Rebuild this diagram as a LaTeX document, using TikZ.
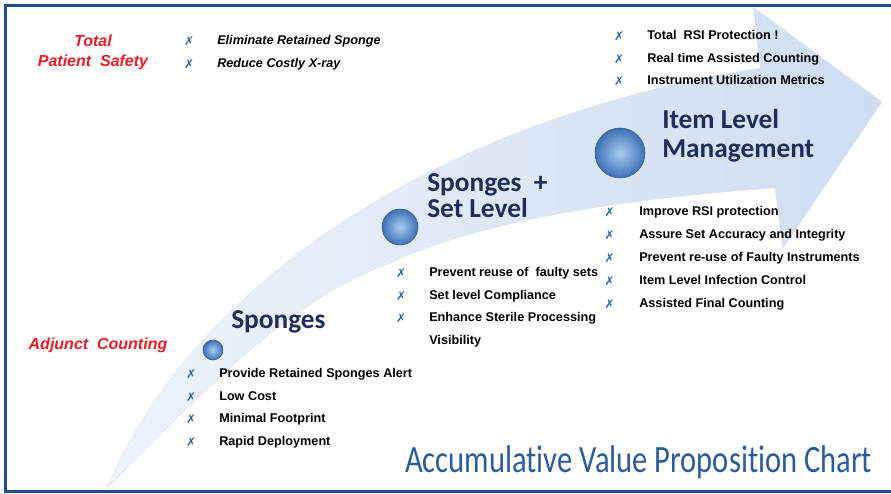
\documentclass[tikz,border=0pt]{standalone}
\usepackage{fontspec}
\setmainfont{Liberation Sans}
\newfontfamily\headfont{Carlito}
\newfontfamily\titlefont[FakeStretch=0.79, Ligatures=NoCommon]{Carlito}
\newfontfamily\markfont{DejaVu Sans}
\usepackage{tikz}
\usetikzlibrary{positioning}

\definecolor{FrameBlue}{RGB}{31,78,140}
\definecolor{HeadNavy}{RGB}{30,44,94}
\definecolor{SafetyRed}{RGB}{237,28,36}
\definecolor{MarkBlue}{RGB}{45,100,170}
\definecolor{ArrowLight}{RGB}{238,243,250}
\definecolor{ArrowBlue}{RGB}{206,221,241}
\definecolor{BubbleBlue}{RGB}{62,112,182}
\definecolor{BubbleLight}{RGB}{170,205,240}
\definecolor{TitleBlue}{RGB}{44,92,158}

\begin{document}
\begin{tikzpicture}[
	x=0.75pt, y=-0.75pt,
	node distance=7.7pt]

\tikzstyle{heading}=[anchor=base west, inner sep=0pt, text=HeadNavy,
	font=\headfont\bfseries\fontsize{20.5}{24}\selectfont]
\tikzstyle{item}=[anchor=west, inner sep=0pt, text height=7pt, text depth=2pt,
	font=\bfseries\fontsize{9.5}{11}\selectfont]
\tikzstyle{next item}=[item, anchor=north west]
\tikzstyle{slanted item}=[item, font=\bfseries\itshape\fontsize{9.5}{11}\selectfont]
\tikzstyle{next slanted item}=[slanted item, anchor=north west]
\tikzstyle{tickmark}=[inner sep=0pt, text=MarkBlue, font=\markfont\fontsize{9}{9}\selectfont]
\tikzstyle{goal}=[inner sep=0pt, align=center, text=SafetyRed,
	font=\bfseries\itshape\fontsize{12}{15}\selectfont]
\tikzstyle{bubble}=[circle, inner sep=0pt, inner color=BubbleLight, outer color=BubbleBlue,
	draw=BubbleBlue!80!black, line width=0.4pt]

\useasboundingbox (0,0) rectangle (891,493);

% Frame
\draw[FrameBlue, line width=2.25pt] (895,5) -- (5,5) -- (5,491.5) -- (895,491.5);

% Curved arrow
\path[left color=ArrowLight, right color=ArrowBlue, draw=ArrowBlue!80!gray!60, line width=0.3pt]
	(107,488)
	.. controls (190,290) and (430,120) .. (760,68)
	-- (753,7) -- (882,102) -- (783,248) -- (775,188)
	.. controls (655,196) and (490,216) .. (390,263)
	.. controls (290,300) and (210,385) .. (107,488)
	-- cycle;

% Stage bubbles
\node (bubSp) at (213,350) [bubble, minimum size=15pt] {};
\node (bubSet) at (400,227) [bubble, minimum size=27pt] {};
\node (bubItem) at (620,153) [bubble, minimum size=37.5pt] {};

% Stage headings
\node (spHead) at (231,328) [heading] {Sponges};
\node (setHeadA) at (427,191) [heading] {Sponges\ \ +};
\node (setHeadB) at (427,217.5) [heading] {Set Level};
\node (itemHeadA) at (662,128.5) [heading] {Item Level};
\node (itemHeadB) at (662,157) [heading] {Management};

% Goals
\node (goalTop) at (93,52) [goal] {Total\\Patient\ \ Safety};
\node (goalLow) at (98,345) [goal] {Adjunct\ \ Counting};

% Total patient safety list
\node (tpA) at (217,41) [slanted item] {Eliminate Retained Sponge};
\node (tpB) [below=of tpA.south west, next slanted item] {Reduce Costly X-ray};
\node (tpTa) [tickmark, left=17pt of tpA] {✗};
\node (tpTb) [tickmark, left=17pt of tpB] {✗};

% Sponges list
\node (spA) at (219,374) [item] {Provide Retained Sponges Alert};
\node (spB) [below=of spA.south west, next item] {Low Cost};
\node (spC) [below=of spB.south west, next item] {Minimal Footprint};
\node (spD) [below=of spC.south west, next item] {Rapid Deployment};
\node (spTa) [tickmark, left=17pt of spA] {✗};
\node (spTb) [tickmark, left=17pt of spB] {✗};
\node (spTc) [tickmark, left=17pt of spC] {✗};
\node (spTd) [tickmark, left=17pt of spD] {✗};

% Set level list
\node (setA) at (429,273) [item] {Prevent reuse of\ \ faulty sets};
\node (setB) [below=of setA.south west, next item] {Set level Compliance};
\node (setC) [below=of setB.south west, next item] {Enhance Sterile Processing};
\node (setD) [below=of setC.south west, next item] {Visibility};
\node (setTa) [tickmark, left=17pt of setA] {✗};
\node (setTb) [tickmark, left=17pt of setB] {✗};
\node (setTc) [tickmark, left=17pt of setC] {✗};

% Item level list, below the arrow
\node (itA) at (639,212.5) [item] {Improve RSI protection};
\node (itB) [below=of itA.south west, next item] {Assure Set Accuracy and Integrity};
\node (itC) [below=of itB.south west, next item] {Prevent re-use of Faulty Instruments};
\node (itD) [below=of itC.south west, next item] {Item Level Infection Control};
\node (itE) [below=of itD.south west, next item] {Assisted Final Counting};
\node (itTa) [tickmark, left=18pt of itA] {✗};
\node (itTb) [tickmark, left=18pt of itB] {✗};
\node (itTc) [tickmark, left=18pt of itC] {✗};
\node (itTd) [tickmark, left=18pt of itD] {✗};
\node (itTe) [tickmark, left=18pt of itE] {✗};

% Item level list, above the arrow
\node (rsiA) at (647,36) [item] {Total\ \ RSI Protection !};
\node (rsiB) [below=of rsiA.south west, next item] {Real time Assisted Counting};
\node (rsiC) [below=of rsiB.south west, next item] {Instrument Utilization Metrics};
\node (rsiTa) [tickmark, left=17pt of rsiA] {✗};
\node (rsiTb) [tickmark, left=17pt of rsiB] {✗};
\node (rsiTc) [tickmark, left=17pt of rsiC] {✗};

% Chart title
\node (chartTitle) at (405,472) [anchor=base west, inner sep=0pt, text=TitleBlue,
	font=\titlefont\fontsize{29}{30}\selectfont] {Accumulative Value Proposition Chart};

\end{tikzpicture}
\end{document}
